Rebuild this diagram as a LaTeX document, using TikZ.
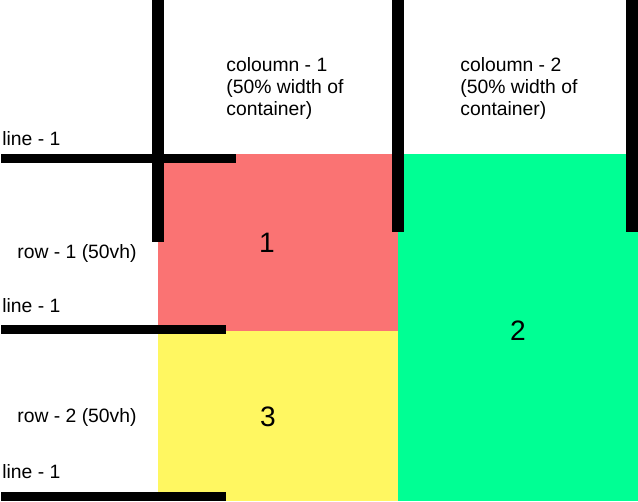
\documentclass[tikz,border=0pt]{standalone}
\usepackage{fontspec}
\setmainfont{Liberation Sans}
\usetikzlibrary{positioning}
\definecolor{cellred}{HTML}{FA7373}
\definecolor{cellyellow}{HTML}{FFF761}
\definecolor{cellgreen}{HTML}{00FF94}
\tikzset{
  cell/.style={
    anchor=north west,
    inner sep=0pt,
    minimum width=4.8cm
  },
  bar/.style={
    fill=black
  },
  note/.style={
    inner sep=0pt,
    font=\fontsize{11}{12.5}\selectfont,
    align=left
  },
  digit/.style={
    inner sep=0pt,
    font=\fontsize{16}{19}\selectfont
  }
}

\begin{document}
\begin{tikzpicture}[x=0.02cm, y=-0.02cm]
    \useasboundingbox (0,0) rectangle (638,501);
    % the three cells
    \node[cell, fill=cellred, minimum height=3.54cm] (cellA) at (158,154) {};
    \node[cell, fill=cellyellow, minimum height=3.4cm] (cellC) at (158,331) {};
    \node[cell, fill=cellgreen, minimum height=6.94cm] (cellB) at (398,154) {};
    \node[digit] (numA) at (267,243) {1};
    \node[digit] (numB) at (518,331) {2};
    \node[digit] (numC) at (268,417) {3};
    % column and row markers
    \fill[bar] (152,0) rectangle (164,242);
    \fill[bar] (392,0) rectangle (404,232);
    \fill[bar] (626,0) rectangle (638,232);
    \fill[bar] (1,154) rectangle (236,163);
    \fill[bar] (1,325) rectangle (226,334);
    \fill[bar] (1,492) rectangle (226,501);
    % texts
    \node[note, anchor=north west] (colA) at (226,57)
      {coloumn - 1\\(50\% width of\\container)};
    \node[note, anchor=north west] (colB) at (460,57)
      {coloumn - 2\\(50\% width of\\container)};
    \node[note, anchor=base west] (lineA) at (2,145) {line - 1};
    \node[note, anchor=base west] (lineB) at (2,312) {line - 1};
    \node[note, anchor=base west] (lineC) at (2,478) {line - 1};
    \node[note, anchor=base] (rowA) at (77,258) {row - 1 (50vh)};
    \node[note, anchor=base] (rowB) at (77,422) {row - 2 (50vh)};
  \end{tikzpicture}
\end{document}
